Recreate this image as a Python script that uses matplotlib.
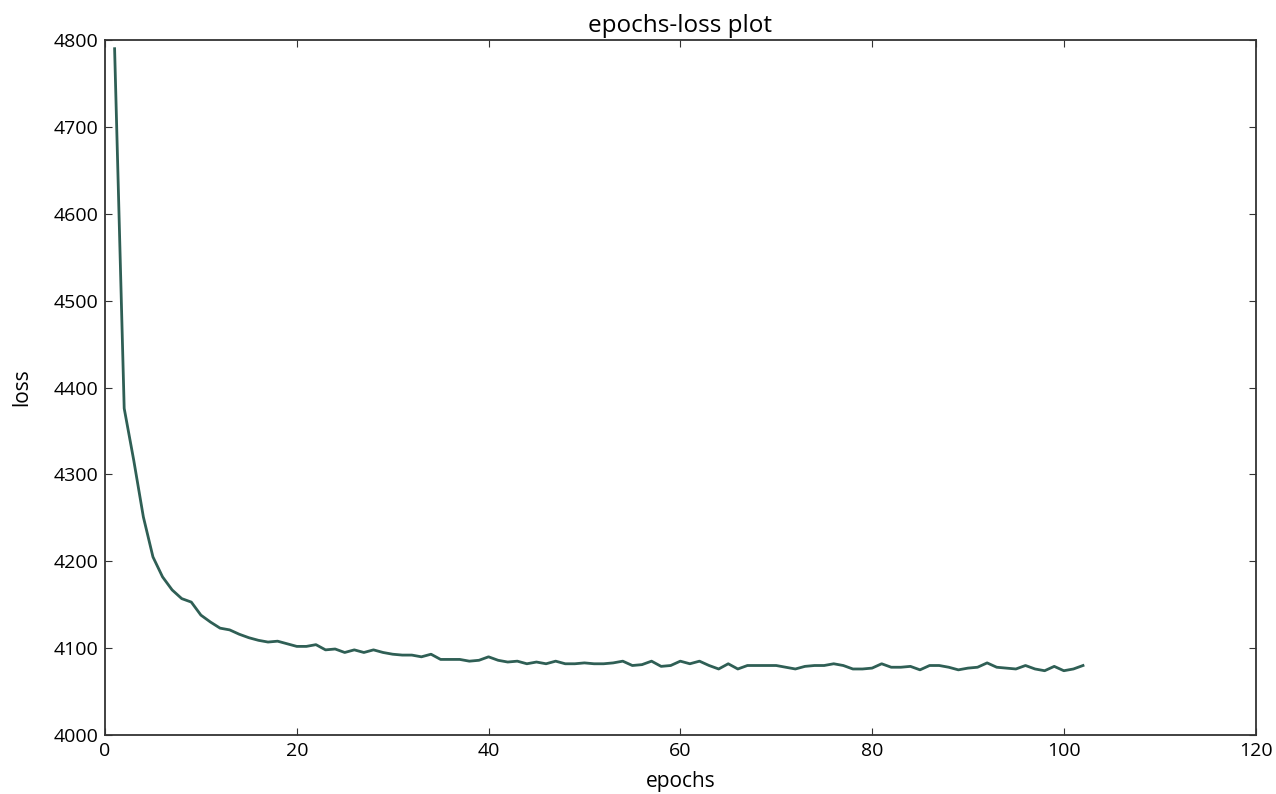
import numpy as np
import matplotlib
matplotlib.use("Agg")
import matplotlib.pyplot as plt

# loss per epoch
epochs = list(range(1, 103))
loss = [
    4790, 4376, 4316, 4251, 4205, 4182, 4167, 4157, 4153, 4138,
    4130, 4123, 4121, 4116, 4112, 4109, 4107, 4108, 4105, 4102,
    4102, 4104, 4098, 4099, 4095, 4098, 4095, 4098, 4095, 4093,
    4092, 4092, 4090, 4093, 4087, 4087, 4087, 4085, 4086, 4090,
    4086, 4084, 4085, 4082, 4084, 4082, 4085, 4082, 4082, 4083,
    4082, 4082, 4083, 4085, 4080, 4081, 4085, 4079, 4080, 4085,
    4082, 4085, 4080, 4076, 4082, 4076, 4080, 4080, 4080, 4080,
    4078, 4076, 4079, 4080, 4080, 4082, 4080, 4076, 4076, 4077,
    4082, 4078, 4078, 4079, 4075, 4080, 4080, 4078, 4075, 4077,
    4078, 4083, 4078, 4077, 4076, 4080, 4076, 4074, 4079, 4074,
    4076, 4080,
]

plt.rcParams['font.family'] = ['Open Sans', 'DejaVu Sans']

fig = plt.figure(figsize=(12.76, 7.94), dpi=100)
ax = fig.add_axes([0.0823, 0.0743, 0.9017, 0.8753])

ax.plot(epochs, loss, color='#2f5f55', linewidth=2)

ax.set_xlim(0, 120)
ax.set_ylim(4000, 4800)
ax.set_xticks(np.arange(0, 121, 20))
ax.set_yticks(np.arange(4000, 4801, 100))
ax.tick_params(direction='in', top=True, right=True, length=5, color='#333333',
               labelsize=14, pad=5)
for s in ax.spines.values():
    s.set_color('#333333')
    s.set_linewidth(1.3)

ax.set_title('epochs-loss plot', fontsize=17.5, pad=6)
ax.set_xlabel('epochs', fontsize=15, labelpad=8)
ax.set_ylabel('loss', fontsize=15, labelpad=15)

fig.savefig('out.png', dpi=100)
